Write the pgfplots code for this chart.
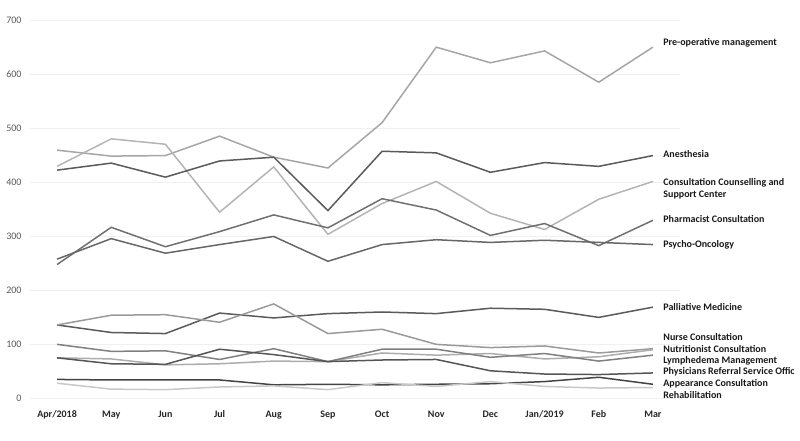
\documentclass[border=0pt]{standalone}
\usepackage{fontspec}
\setmainfont{Carlito}
\usepackage{pgfplots}
\pgfplotsset{compat=1.18}

\definecolor{gA}{HTML}{A6A6A6}
\definecolor{gB}{HTML}{B4B4B4}
\definecolor{gC}{HTML}{5A5A5A}
\definecolor{gD}{HTML}{707070}
\definecolor{gE}{HTML}{676767}
\definecolor{gF}{HTML}{9A9A9A}
\definecolor{gG}{HTML}{ACACAC}
\definecolor{gH}{HTML}{808080}
\definecolor{gI}{HTML}{555555}
\definecolor{gJ}{HTML}{444444}
\definecolor{gK}{HTML}{C8C8C8}

\begin{document}
\begin{tikzpicture}[
    lbl/.style={anchor=west, inner sep=0pt, text height=6.4pt, text depth=0pt,
        font=\fontsize{10}{12}\selectfont\bfseries, text=black!90}]
\useasboundingbox (0pt,0pt) rectangle (800pt,440pt);
\begin{axis}[
    at={(30pt,41.7pt)}, anchor=south west,
    width=650pt, height=377.6pt, scale only axis,
    xmin=-0.5, xmax=11.5, ymin=0, ymax=700,
    xtick={0,...,11},
    xticklabels={Apr/2018,May,Jun,Jul,Aug,Sep,Oct,Nov,Dec,Jan/2019,Feb,Mar},
    ytick={0,100,...,700},
    axis line style={draw=none},
    major tick length=0pt,
    ymajorgrids,
    major grid style={color=black!6, line width=0.6pt},
    tick label style={font=\fontsize{10}{12}\selectfont},
    xticklabel style={font=\fontsize{10}{12}\selectfont\bfseries, text=black!85, yshift=-9pt},
    yticklabel style={text=black!65, xshift=-5pt},
    /pgf/number format/assume math mode=true,
    clip=false,
    every axis plot/.append style={line width=1.5pt, mark=none},
]

% Pre-operative management
\addplot[gA] coordinates {(0,460) (1,449) (2,450) (3,486) (4,447) (5,427) (6,511) (7,651) (8,622) (9,644) (10,586) (11,651)};
% Consultation Counselling and Support Center
\addplot[gB] coordinates {(0,430) (1,481) (2,471) (3,345) (4,429) (5,304) (6,361) (7,402) (8,343) (9,313) (10,369) (11,402)};
% Anesthesia
\addplot[gC] coordinates {(0,423) (1,436) (2,410) (3,440) (4,447) (5,348) (6,458) (7,455) (8,419) (9,437) (10,430) (11,450)};
% Pharmacist Consultation
\addplot[gD] coordinates {(0,248) (1,317) (2,281) (3,309) (4,340) (5,316) (6,370) (7,349) (8,302) (9,324) (10,283) (11,330)};
% Psycho-Oncology
\addplot[gE] coordinates {(0,258) (1,296) (2,269) (3,285) (4,300) (5,254) (6,285) (7,294) (8,289) (9,293) (10,289) (11,285)};
% Palliative Medicine
\addplot[gC] coordinates {(0,136) (1,122) (2,120) (3,158) (4,149) (5,157) (6,160) (7,157) (8,167) (9,165) (10,150) (11,169)};
% Nurse Consultation
\addplot[gF] coordinates {(0,136) (1,154) (2,155) (3,141) (4,175) (5,120) (6,128) (7,100) (8,94) (9,97) (10,84) (11,92)};
% Nutritionist Consultation
\addplot[gG] coordinates {(0,75) (1,73) (2,62) (3,64) (4,69) (5,68) (6,84) (7,80) (8,83) (9,73) (10,77) (11,90)};
% Lymphedema Management
\addplot[gH] coordinates {(0,100) (1,87) (2,88) (3,72) (4,92) (5,68) (6,91) (7,91) (8,76) (9,83) (10,69) (11,80)};
% Physicians Referral Service Office
\addplot[gI] coordinates {(0,75) (1,64) (2,63) (3,91) (4,81) (5,68) (6,71) (7,72) (8,51) (9,45) (10,44) (11,47)};
% Appearance Consultation
\addplot[gJ] coordinates {(0,35) (1,34) (2,34) (3,34) (4,25) (5,26) (6,25) (7,26) (8,27) (9,31) (10,39) (11,26)};
% Rehabilitation
\addplot[gK] coordinates {(0,28) (1,17) (2,16) (3,21) (4,23) (5,16) (6,29) (7,22) (8,31) (9,22) (10,19) (11,20)};

\node[lbl] at (axis cs:11.19,659.2) {Pre-operative management};
\node[lbl] at (axis cs:11.19,452.4) {Anesthesia};
\node[lbl] at (axis cs:11.19,400.5) {Consultation Counselling and};
\node[lbl] at (axis cs:11.19,378.3) {Support Center};
\node[lbl] at (axis cs:11.19,332.6) {Pharmacist Consultation};
\node[lbl] at (axis cs:11.19,286.3) {Psycho-Oncology};
\node[lbl] at (axis cs:11.19,169.6) {Palliative Medicine};
\node[lbl] at (axis cs:11.19,113.0) {Nurse Consultation};
\node[lbl] at (axis cs:11.19,90.7) {Nutritionist Consultation};
\node[lbl] at (axis cs:11.19,69.6) {Lymphedema Management};
\node[lbl] at (axis cs:11.19,49.3) {Physicians Referral Service Offic};
\node[lbl] at (axis cs:11.19,27.0) {Appearance Consultation};
\node[lbl] at (axis cs:11.19,5.6) {Rehabilitation};
\end{axis}
\end{tikzpicture}
\end{document}
